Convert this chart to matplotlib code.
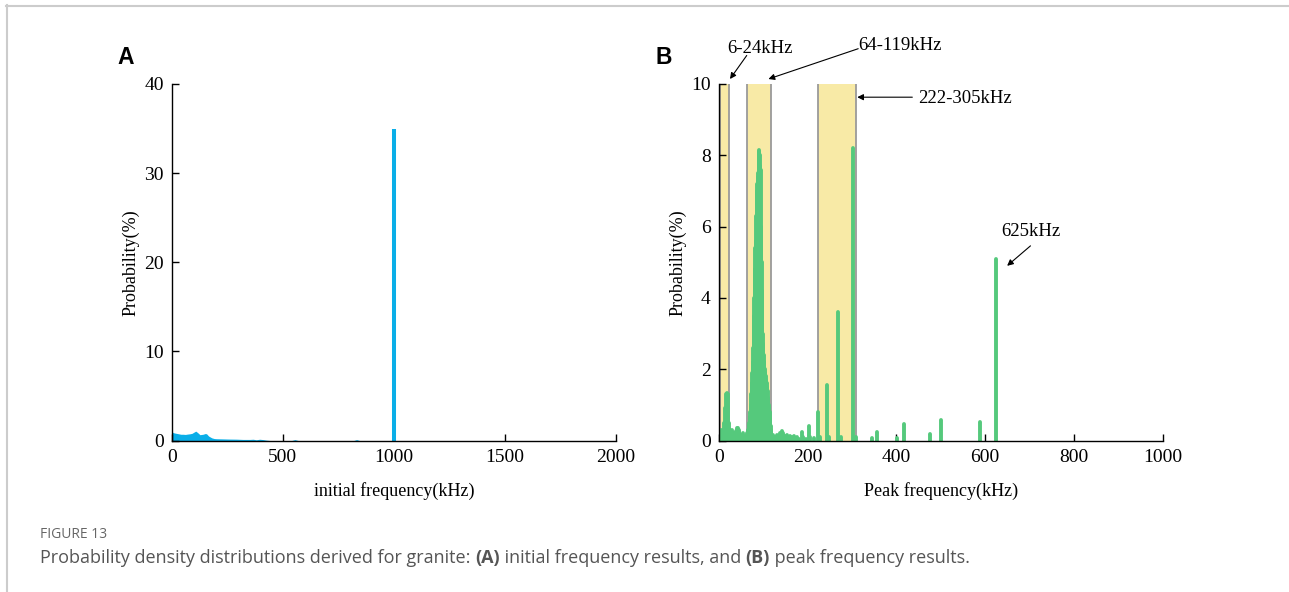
import matplotlib
matplotlib.use("Agg")
import matplotlib.pyplot as plt
from matplotlib.lines import Line2D

# ---------------- data ----------------
# Panel A: initial frequency distribution
a_freq = [0, 5, 10, 20, 30, 40, 50, 60, 70, 80, 90, 100, 107, 115, 126, 140, 150, 156, 165, 179,
          190, 200, 230, 260, 290, 320, 351, 366, 380, 395, 411, 425, 440, 540, 554, 568, 820, 832, 845]
a_prob = [0.95, 0.9, 0.85, 0.8, 0.75, 0.7, 0.7, 0.68, 0.72, 0.75, 0.8, 0.95, 1.05, 0.9, 0.65, 0.7, 0.78, 0.75, 0.5, 0.3,
          0.22, 0.2, 0.18, 0.16, 0.15, 0.12, 0.12, 0.14, 0.08, 0.14, 0.1, 0.04, 0.0, 0.0, 0.1, 0.0, 0.0, 0.1, 0.0]
a_spike_freq = [1000]
a_spike_prob = [35.0]

# Panel B: peak frequency distribution
b_freq = [0, 2, 4, 6, 8, 10, 12, 14, 16, 18, 20, 22, 24, 26, 28, 30, 32, 34, 36, 38, 40, 42, 44, 46, 48,
          50, 52, 54, 56, 58, 60, 62, 64,
          66, 67, 68, 69, 70, 71, 72, 73, 74, 75, 76, 77, 78, 79, 80, 81, 82, 83, 84, 85, 86, 87, 88, 89,
          90, 91, 92, 93, 94, 95, 96, 97, 98, 99, 100, 101, 102, 103, 104, 105, 106, 107, 108, 109,
          110, 111, 112, 113, 114, 115, 116, 117, 118,
          122, 126, 130, 134, 138, 141, 145, 149, 153, 157, 161, 165, 168, 172, 175, 180, 187, 190, 195,
          202, 205, 213,
          222, 227, 243, 249, 269, 276, 302, 309, 344, 357, 401, 416, 476, 500, 589, 625]
b_prob = [0.2, 0.25, 0.3, 0.25, 0.3, 0.25, 0.5, 0.9, 1.3, 1.32, 1.3, 0.5, 0.3, 0.25, 0.2, 0.3, 0.22, 0.15, 0.2, 0.28, 0.35, 0.36, 0.3, 0.2, 0.12,
          0.1, 0.15, 0.2, 0.12, 0.08, 0.1, 0.15, 0.2,
          0.3, 0.4, 0.5, 0.65, 0.8, 0.9, 1.0, 1.3, 1.6, 1.9, 2.2, 2.6, 3.0, 3.5, 4.0, 4.8, 5.4, 5.6, 6.3, 7.0, 7.2, 7.3, 7.4, 7.5,
          8.15, 8.1, 8.0, 7.7, 7.6, 6.0, 5.0, 4.2, 3.6, 3.0, 2.7, 2.4, 2.2, 2.0, 1.9, 1.8, 1.7, 1.65, 1.6, 1.5,
          1.4, 1.2, 1.0, 0.9, 0.8, 0.6, 0.5, 0.4, 0.3,
          0.15, 0.1, 0.15, 0.12, 0.2, 0.28, 0.22, 0.12, 0.15, 0.1, 0.12, 0.1, 0.12, 0.08, 0.1, 0.05, 0.25, 0.1, 0.05,
          0.42, 0.1, 0.08,
          0.8, 0.1, 1.55, 0.1, 3.6, 0.1, 8.2, 0.1, 0.07, 0.23, 0.08, 0.46, 0.19, 0.57, 0.51, 5.1]

bands = [(2, 23), (64, 118), (222, 309)]
band_labels = ["6-24kHz", "64-119kHz", "222-305kHz"]

# ---------------- figure ----------------
W, H = 1289, 592
fig = plt.figure(figsize=(W / 100, H / 100), dpi=100)
serif = ["Liberation Serif", "DejaVu Serif"]

def px(x, y):
    return x / W, 1 - y / H

BLUE = "#0aaee8"
GREEN = "#55c97c"
YELLOW = "#f8eaa6"

axA = fig.add_axes([172 / W, 1 - 440.5 / H, 443.7 / W, 356.5 / H])
axB = fig.add_axes([719 / W, 1 - 440.5 / H, 443.7 / W, 356.5 / H])

for ax in (axA, axB):
    for s in ("top", "right"):
        ax.spines[s].set_visible(False)
    for s in ("left", "bottom"):
        ax.spines[s].set_linewidth(1.0)
        ax.spines[s].set_zorder(5)
    ax.tick_params(direction="in", length=5, width=1.0, labelsize=14, pad=6)

# Panel A
axA.fill_between(a_freq, a_prob, 0, color=BLUE, lw=0)
axA.vlines(a_spike_freq, 0, a_spike_prob, color=BLUE, lw=2.9)
axA.set_xlim(0, 2000)
axA.set_ylim(0, 40)
axA.set_xticks([0, 500, 1000, 1500, 2000])
axA.set_yticks([0, 10, 20, 30, 40])
axA.set_xlabel("initial frequency(kHz)", fontfamily=serif, fontsize=13, labelpad=12)
axA.set_ylabel("Probability(%)", fontfamily=serif, fontsize=13, labelpad=3)

# Panel B
for (lo, hi) in bands:
    axB.axvspan(lo, hi, color=YELLOW, zorder=0, lw=0)
    axB.axvline(lo, color="#9a9a9a", lw=1.3, zorder=1)
    axB.axvline(hi, color="#9a9a9a", lw=1.3, zorder=1)
vl = axB.vlines(b_freq, 0, b_prob, color=GREEN, lw=2.8, zorder=2)
vl.set_capstyle("round")
axB.set_xlim(0, 1000)
axB.set_ylim(0, 10)
axB.set_xticks([0, 200, 400, 600, 800, 1000])
axB.set_yticks([0, 2, 4, 6, 8, 10])
axB.set_xlabel("Peak frequency(kHz)", fontfamily=serif, fontsize=13, labelpad=12)
axB.set_ylabel("Probability(%)", fontfamily=serif, fontsize=13, labelpad=3)

for ax in (axA, axB):
    for lab in ax.get_xticklabels() + ax.get_yticklabels():
        lab.set_fontfamily(serif)

# annotations (panel B)
afs = 13.5
akw = dict(arrowstyle="-|>", color="black", lw=0.8, mutation_scale=9, shrinkA=0, shrinkB=0)
axB.annotate("", xy=(24.8, 10.14), xytext=(62.5, 10.8), arrowprops=akw, annotation_clip=False)
axB.text(93, 11.0, band_labels[0], ha="center", va="center", fontfamily=serif, fontsize=afs, clip_on=False)
axB.annotate("", xy=(111.4, 10.14), xytext=(313.7, 10.99), arrowprops=akw, annotation_clip=False)
axB.text(313, 11.08, band_labels[1], ha="left", va="center", fontfamily=serif, fontsize=afs, clip_on=False)
axB.annotate("", xy=(311.5, 9.63), xytext=(435.7, 9.63), arrowprops=akw, annotation_clip=False)
axB.text(449, 9.6, band_labels[2], ha="left", va="center", fontfamily=serif, fontsize=afs, clip_on=False)
axB.annotate("", xy=(649.4, 4.9), xytext=(702, 5.46), arrowprops=akw, annotation_clip=False)
axB.text(702, 5.86, "625kHz", ha="center", va="center", fontfamily=serif, fontsize=afs, clip_on=False)

# panel letters
fig.text(*px(126, 57), "A", ha="center", va="center", fontfamily="Liberation Sans",
         fontweight="bold", fontsize=16.5)
fig.text(*px(664, 57), "B", ha="center", va="center", fontfamily="Liberation Sans",
         fontweight="bold", fontsize=16.5)

# frame
fig.add_artist(Line2D([6 / W, 1], [1 - 5.5 / H, 1 - 5.5 / H], color="#cccccc", lw=1.5))
fig.add_artist(Line2D([6.5 / W, 6.5 / W], [0, 1 - 5 / H], color="#cccccc", lw=1.5))

# caption
cap_font = "Open Sans"
fig.text(*px(40, 535), "FIGURE 13", ha="left", va="center", fontfamily=cap_font,
         fontsize=10, color="#666666")
pieces = [("Probability density distributions derived for granite: ", "normal"),
          ("(A)", "bold"),
          (" initial frequency results, and ", "normal"),
          ("(B)", "bold"),
          (" peak frequency results.", "normal")]
renderer = fig.canvas.get_renderer()
x0 = 40
target_end = 973


def layout(fs, draw):
    x = x0
    arts = []
    for txt, wt in pieces:
        t = fig.text(x / W, 1 - 558 / H, txt, ha="left", va="center", fontfamily=cap_font,
                     fontsize=fs, fontweight=wt, color="#555555")
        bb = t.get_window_extent(renderer)
        x += bb.width
        arts.append(t)
    if not draw:
        for t in arts:
            t.remove()
    return x


fs = 11
end = layout(fs, False)
fs = fs * (target_end - x0) / (end - x0)
layout(fs, True)

fig.savefig("out.png", dpi=100)
